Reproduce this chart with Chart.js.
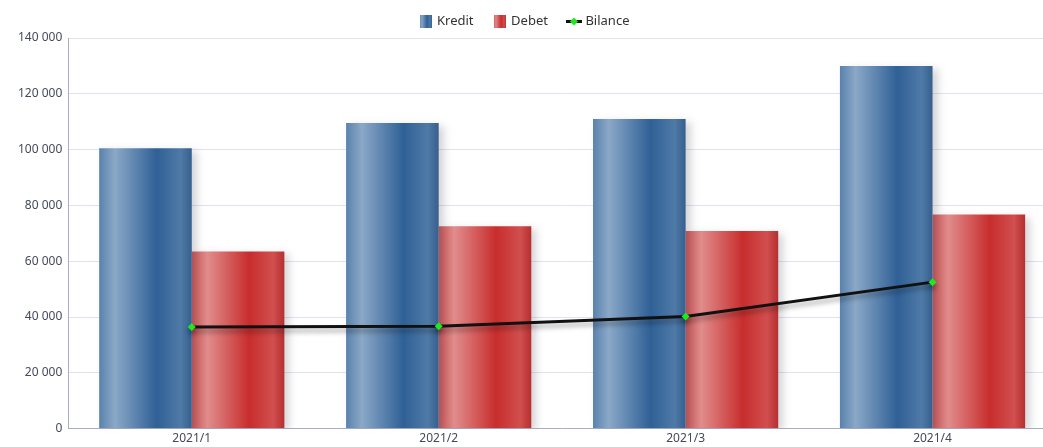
<!DOCTYPE html>
<html>
<head>
<meta charset="utf-8">
<script src="https://cdn.jsdelivr.net/npm/chart.js@4/dist/chart.umd.min.js"></script>
<style>
  html, body { margin: 0; padding: 0; background: #fff; overflow: hidden; }
  #wrap { position: relative; width: 1062px; height: 447px; }
</style>
</head>
<body>
<div id="wrap"><canvas id="chart"></canvas></div>
<script>
// Chart data
const quarters = ["2021/1", "2021/2", "2021/3", "2021/4"];
const kredit = [100500, 109500, 111000, 130000];
const debet = [63500, 72500, 70800, 76700];
const bilance = [36400, 36700, 40200, 52500];
const yTicks = [0, 20000, 40000, 60000, 80000, 100000, 120000, 140000];

const FONT = "'Noto Sans', sans-serif";
const CAT_PCT = 0.75;

// Gradient stops for the bars (left to right)
const kreditStops = [[0, "#5a82ad"], [0.17, "#8ba8c7"], [0.62, "#2f6096"], [0.88, "#4f7aa7"], [1, "#365f8e"]];
const debetStops = [[0, "#d05656"], [0.17, "#e08c8c"], [0.62, "#c82d2d"], [0.88, "#d14f4f"], [1, "#b52f2f"]];

function makeGradient(ctx, x0, w, stops) {
  const g = ctx.createLinearGradient(x0, 0, x0 + w, 0);
  stops.forEach(function (s) { g.addColorStop(s[0], s[1]); });
  return g;
}

// Bar fill: gradient placed where the bar sits on the category scale
function barFill(stops, left) {
  return function (c) {
    const chart = c.chart;
    const xs = chart.scales.x;
    if (!chart.chartArea || !xs || c.dataIndex === undefined) return stops[2][1];
    const center = xs.getPixelForValue(c.dataIndex);
    const w = (xs.width / quarters.length) * CAT_PCT / 2;
    const x0 = left ? center - w : center;
    return makeGradient(chart.ctx, x0, w, stops);
  };
}

// Small canvases used as legend symbols
function boxIcon(stops) {
  const cv = document.createElement("canvas");
  cv.width = 12; cv.height = 13;
  const c = cv.getContext("2d");
  c.fillStyle = makeGradient(c, 0, 12, stops);
  c.fillRect(0, 0, 12, 13);
  return cv;
}
function lineIcon() {
  const cv = document.createElement("canvas");
  cv.width = 16; cv.height = 9;
  const c = cv.getContext("2d");
  c.fillStyle = "#111";
  c.fillRect(0, 3, 16, 3);
  c.fillStyle = "#1fe81f";
  c.beginPath();
  c.moveTo(8, 0.5); c.lineTo(12, 4.5); c.lineTo(8, 8.5); c.lineTo(4, 4.5);
  c.closePath();
  c.fill();
  return cv;
}
const icons = [boxIcon(kreditStops), boxIcon(debetStops), lineIcon()];

// Soft drop shadow under bars and the line
const shadowPlugin = {
  id: "shadow",
  beforeDatasetDraw(chart, args) {
    const ctx = chart.ctx;
    ctx.save();
    if (args.meta.type === "bar") {
      ctx.shadowColor = "rgba(60, 60, 80, 0.22)";
      ctx.shadowBlur = 8;
      ctx.shadowOffsetX = 5;
      ctx.shadowOffsetY = 3;
    } else {
      ctx.shadowColor = "rgba(0, 0, 0, 0.35)";
      ctx.shadowBlur = 5;
      ctx.shadowOffsetX = 0;
      ctx.shadowOffsetY = 4;
    }
  },
  afterDatasetDraw(chart) {
    chart.ctx.restore();
  }
};

// The canvas is wider than the window, so center the legend on the visible part
const legendShift = {
  id: "legendShift",
  afterLayout(chart) {
    if (chart.legend) {
      chart.legend.left -= 9;
      chart.legend.right -= 9;
    }
  }
};

new Chart(document.getElementById("chart"), {
  data: {
    labels: quarters,
    datasets: [
      {
        type: "bar",
        label: "Kredit",
        data: kredit,
        order: 1,
        backgroundColor: barFill(kreditStops, true),
        borderWidth: 0,
        categoryPercentage: CAT_PCT,
        barPercentage: 1
      },
      {
        type: "bar",
        label: "Debet",
        data: debet,
        order: 1,
        backgroundColor: barFill(debetStops, false),
        borderWidth: 0,
        categoryPercentage: CAT_PCT,
        barPercentage: 1
      },
      {
        type: "line",
        label: "Bilance",
        data: bilance,
        order: 0,
        borderColor: "#111111",
        borderWidth: 3,
        tension: 0,
        pointStyle: "rectRot",
        pointRadius: 4,
        pointBackgroundColor: "#1fe81f",
        pointBorderColor: "#1fe81f",
        pointBorderWidth: 0
      }
    ]
  },
  plugins: [shadowPlugin, legendShift],
  options: {
    responsive: true,
    maintainAspectRatio: false,
    animation: false,
    layout: { padding: { left: 12, right: 6, top: -6, bottom: -2 } },
    plugins: {
      tooltip: { enabled: false },
      legend: {
        position: "top",
        labels: {
          usePointStyle: true,
          pointStyleWidth: 10,
          padding: 21,
          color: "#333",
          font: { family: FONT, size: 13 },
          generateLabels: function (chart) {
            return chart.data.datasets.map(function (ds, i) {
              return {
                text: ds.label,
                pointStyle: icons[i],
                fontColor: "#333",
                hidden: false,
                datasetIndex: i,
                lineWidth: 0,
                strokeStyle: "transparent",
                fillStyle: "transparent"
              };
            });
          }
        }
      }
    },
    scales: {
      x: {
        grid: { display: false, drawTicks: false },
        border: { color: "#a9aec6", width: 1 },
        ticks: { color: "#444a5c", font: { family: FONT, size: 12 }, padding: 3 }
      },
      y: {
        min: 0,
        max: 140000,
        afterBuildTicks: function (axis) {
          axis.ticks = yTicks.map(function (v) { return { value: v }; });
        },
        grid: { color: "#e2e2ee", drawTicks: false },
        border: { color: "#a9aec6", width: 1 },
        ticks: {
          color: "#444a5c",
          font: { family: FONT, size: 12 },
          padding: 6,
          callback: function (v) {
            return String(v).replace(/\B(?=(\d{3})+(?!\d))/g, " ");
          }
        }
      }
    }
  }
});
</script>
</body>
</html>
